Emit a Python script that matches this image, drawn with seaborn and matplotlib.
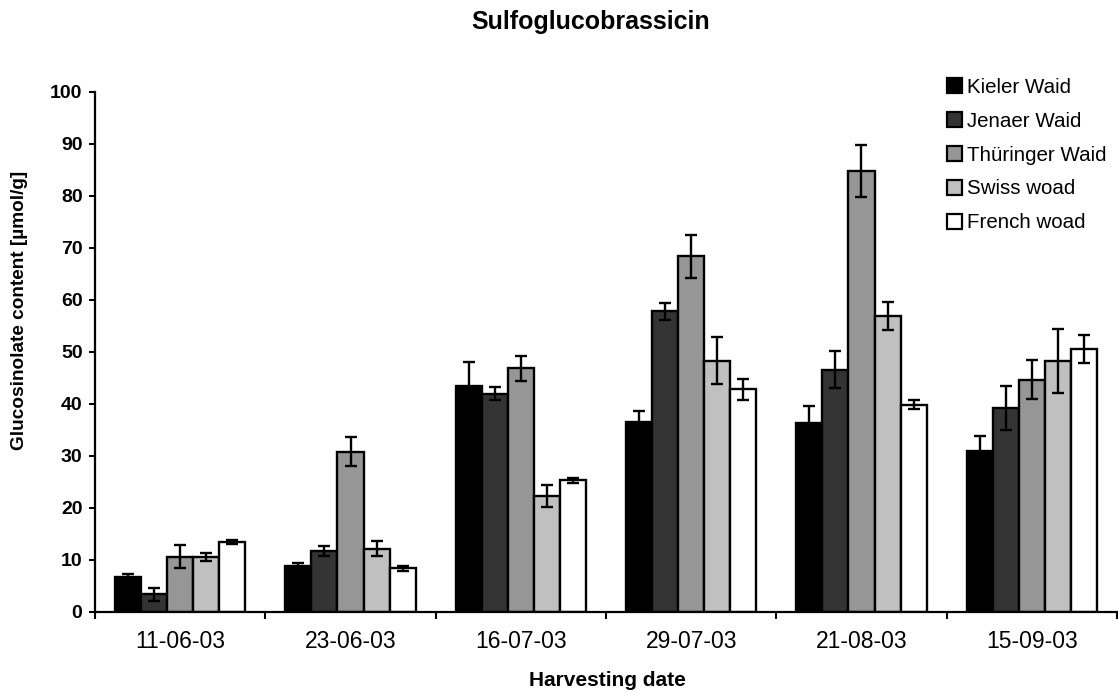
import numpy as np
import pandas as pd
import matplotlib
matplotlib.use("Agg")
import matplotlib.pyplot as plt
from matplotlib.patches import Patch
import seaborn as sns

# ─────────────────────────────────────────
# DATA
# ─────────────────────────────────────────
dates = ['11-06-03', '23-06-03', '16-07-03', '29-07-03', '21-08-03', '15-09-03']
varieties = ['Kieler Waid', 'Jenaer Waid', 'Thüringer Waid', 'Swiss woad', 'French woad']

kieler = [6.8, 8.8, 43.5, 36.6, 36.4, 30.9]
kieler_err = [0.5, 0.6, 4.6, 2.0, 3.3, 3.0]
jenaer = [3.4, 11.7, 42.0, 57.8, 46.6, 39.2]
jenaer_err = [1.2, 1.0, 1.3, 1.7, 3.6, 4.2]
thueringer = [10.6, 30.8, 46.9, 68.4, 84.9, 44.7]
thueringer_err = [2.2, 2.8, 2.4, 4.1, 5.0, 3.8]
swiss = [10.6, 12.2, 22.3, 48.3, 56.9, 48.3]
swiss_err = [0.7, 1.5, 2.1, 4.5, 2.7, 6.1]
french = [13.4, 8.4, 25.3, 42.8, 39.9, 50.5]
french_err = [0.4, 0.5, 0.5, 2.0, 0.8, 2.7]

colors = ['#000000', '#333333', '#969696', '#c0c0c0', '#ffffff']

values = [kieler, jenaer, thueringer, swiss, french]
errors = [kieler_err, jenaer_err, thueringer_err, swiss_err, french_err]

df = pd.DataFrame({
    'date': dates * len(varieties),
    'variety': [v for v in varieties for _ in dates],
    'value': [x for row in values for x in row],
})

# ─────────────────────────────────────────
# PLOT
# ─────────────────────────────────────────
sns.set_style('white')
plt.rcParams['font.family'] = ['Liberation Sans', 'DejaVu Sans']
plt.rcParams['text.color'] = 'black'
plt.rcParams['xtick.color'] = 'black'
plt.rcParams['ytick.color'] = 'black'

fig = plt.figure(figsize=(11.18, 6.95), dpi=100)
W, H = 1118, 695
ax = fig.add_axes([95 / W, 1 - 612 / H, (1117 - 95) / W, (612 - 92) / H])

sns.barplot(data=df, x='date', y='value', hue='variety', order=dates,
            hue_order=varieties, palette=colors, width=0.765,
            errorbar=None, edgecolor='black', linewidth=1.7,
            saturation=1, legend=False, ax=ax)

# error bars on top of each bar
for cont, err in zip(ax.containers, errors):
    xs = [b.get_x() + b.get_width() / 2 for b in cont]
    ys = [b.get_height() for b in cont]
    ax.errorbar(xs, ys, yerr=err, fmt='none', ecolor='black',
                elinewidth=1.7, capsize=4, capthick=1.7, zorder=5)

ax.set_ylim(0, 100)
ax.set_xlim(-0.5, len(dates) - 0.5)
ax.set_yticks(range(0, 101, 10))
ax.set_yticklabels([str(t) for t in range(0, 101, 10)], fontweight='bold', fontsize=14)
ax.tick_params(axis='y', direction='out', length=4, width=1.5, pad=5, left=True)
ax.tick_params(axis='x', which='major', length=0, pad=13, labelsize=16.5)
ax.set_xticks(np.arange(-0.5, len(dates), 1.0), minor=True)
ax.tick_params(axis='x', which='minor', direction='out', length=5, width=1.5, bottom=True)

for s in ['top', 'right']:
    ax.spines[s].set_visible(False)
for s in ['left', 'bottom']:
    ax.spines[s].set_linewidth(1.6)
    ax.spines[s].set_color('black')

ax.set_xlabel('')
ax.set_ylabel('')
fig.text(607 / W, 1 - 680 / H, 'Harvesting date', ha='center', va='center',
         fontsize=15, fontweight='bold')
fig.text(20 / W, 1 - 310 / H, 'Glucosinolate content [µmol/g]', ha='center',
         va='center', rotation=90, fontsize=13.7, fontweight='bold')
fig.text(591 / W, 1 - 22 / H, 'Sulfoglucobrassicin', ha='center', va='center',
         fontsize=18, fontweight='bold')

handles = [Patch(facecolor=c, edgecolor='black', linewidth=1.6) for c in colors]
fig.legend(handles, varieties, loc='upper left',
           bbox_to_anchor=(947 / W, 1 - 78 / H), frameon=False,
           fontsize=14.8, handlelength=0.75, handleheight=0.75,
           handletextpad=0.2, labelspacing=0.72, borderpad=0, borderaxespad=0)

fig.savefig('out.png', dpi=100)
